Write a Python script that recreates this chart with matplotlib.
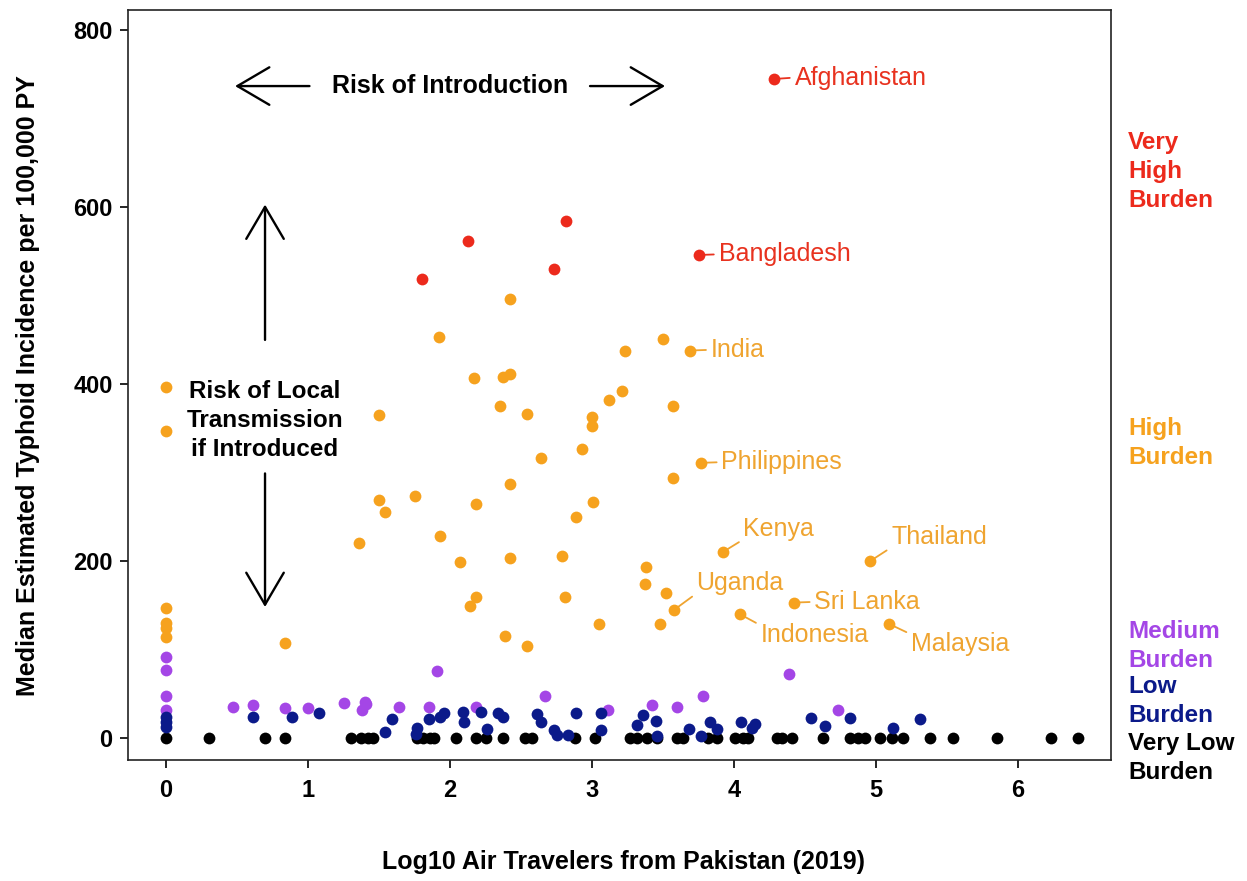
import matplotlib
matplotlib.use("Agg")
import matplotlib.pyplot as plt

plt.rcParams['font.family'] = ['Liberation Sans', 'DejaVu Sans']

# burden groups: x = log10 air travelers, y = median incidence per 100,000 PY
very_low_x = [0, 0.30, 0.70, 0.84, 1.30, 1.37, 1.42, 1.46, 1.77, 1.81, 1.86, 1.89,
              2.04, 2.18, 2.25, 2.37, 2.53, 2.58, 2.88, 3.02, 3.27, 3.32, 3.39, 3.46,
              3.60, 3.64, 3.82, 3.88, 4.01, 4.06, 4.10, 4.30, 4.34, 4.41, 4.63, 4.82,
              4.87, 4.92, 5.03, 5.11, 5.19, 5.38, 5.54, 5.85, 6.23, 6.42]
very_low_y = [0] * len(very_low_x)

low_x = [0, 0, 0, 0.61, 0.89, 1.08, 1.54, 1.59, 1.77, 1.76, 1.85, 1.93, 1.96, 2.09,
         2.10, 2.22, 2.26, 2.34, 2.37, 2.61, 2.64, 2.73, 2.75, 2.83, 2.89, 3.06,
         3.06, 3.32, 3.36, 3.45, 3.46, 3.68, 3.77, 3.83, 3.88, 4.05, 4.13, 4.15,
         4.54, 4.64, 4.82, 5.12, 5.31]
low_y = [24, 18, 12, 24, 24, 28, 7, 21, 11, 4, 21, 24, 28, 29,
         18, 29, 10, 28, 24, 27, 18, 9, 3, 3, 28, 28,
         9, 15, 26, 19, 2, 10, 2, 18, 10, 18, 11, 16,
         23, 14, 23, 11, 21]

medium_x = [0, 0, 0, 0, 0.47, 0.61, 0.84, 1.00, 1.25, 1.40, 1.38, 1.41, 1.64, 1.91,
            1.85, 2.18, 2.67, 3.11, 3.42, 3.60, 3.78, 4.39, 4.73]
medium_y = [91, 77, 47, 31, 35, 37, 34, 34, 40, 41, 31, 38, 35, 76,
            35, 35, 47, 31, 37, 35, 47, 72, 31]

high_x = [0, 0, 0, 0, 0, 0, 2.17, 1.50, 1.50, 1.54, 1.75, 2.18, 1.36, 1.93, 2.07,
          2.18, 2.14, 0.84, 2.42, 1.92, 3.23, 2.37, 2.42, 3.21, 3.12, 2.35, 2.54,
          3.00, 3.00, 2.93, 2.64, 2.42, 3.01, 2.89, 2.42, 2.79, 2.81, 3.05, 2.39,
          2.54, 3.50, 3.57, 3.57, 3.38, 3.37, 3.52, 3.48]
high_y = [397, 347, 147, 130, 124, 114, 407, 365, 269, 255, 273, 264, 220, 228, 199,
          159, 149, 107, 496, 453, 437, 408, 411, 392, 382, 375, 366,
          363, 353, 327, 316, 287, 267, 250, 203, 206, 159, 129, 115,
          104, 451, 375, 294, 193, 174, 164, 129]

very_high_x = [1.80, 2.13, 2.73, 2.82]
very_high_y = [519, 562, 530, 584]

# labelled countries
names = ["Afghanistan", "Bangladesh", "India", "Philippines", "Kenya", "Uganda",
         "Sri Lanka", "Indonesia", "Thailand", "Malaysia"]
names_x = [4.28, 3.75, 3.69, 3.77, 3.92, 3.58, 4.42, 4.04, 4.96, 5.09]
names_y = [745, 546, 438, 311, 210, 145, 153, 140, 200, 129]
names_group = ["very_high", "very_high", "high", "high", "high", "high",
               "high", "high", "high", "high"]

group_labels = ["Very\nHigh\nBurden", "High\nBurden", "Medium\nBurden",
                "Low\nBurden", "Very Low\nBurden"]
group_label_y = [640, 333, 104, 42, -23]

colors = {"very_high": "#EC2A1C", "high": "#F6A21E", "medium": "#A446E6",
          "low": "#0B1A8A", "very_low": "#000000"}
label_colors = {"very_high": "#E8321F", "high": "#EFA430"}

fig = plt.figure(figsize=(12.47, 8.81), dpi=100)
ax = fig.add_axes([128 / 1247, 121 / 881, 983 / 1247, 750 / 881])

ms = 72
ax.scatter(high_x, high_y, s=ms, color=colors["high"], lw=0, zorder=3)
ax.scatter(very_high_x, very_high_y, s=ms, color=colors["very_high"], lw=0, zorder=3)
ax.scatter(medium_x, medium_y, s=ms, color=colors["medium"], lw=0, zorder=3)
ax.scatter(very_low_x, very_low_y, s=ms, color=colors["very_low"], lw=0, zorder=4)
ax.scatter(low_x, low_y, s=ms, color=colors["low"], lw=0, zorder=5)
for g in ["very_high", "high"]:
    xs = [x for x, gg in zip(names_x, names_group) if gg == g]
    ys = [y for y, gg in zip(names_y, names_group) if gg == g]
    ax.scatter(xs, ys, s=ms, color=colors[g], lw=0, zorder=3)

# text offsets (points) and line anchor on the text
offsets = {"Afghanistan": (15, 1, (0, 0.5)), "Bangladesh": (14.5, 0.5, (0, 0.5)),
           "India": (15, 0.5, (0, 0.5)), "Philippines": (14.5, 0.5, (0, 0.5)),
           "Kenya": (15, 17, (0, 0.05)), "Uganda": (16, 19.5, (0, 0.05)),
           "Sri Lanka": (15, 0.5, (0, 0.5)), "Indonesia": (15, -15, (0, 0.9)),
           "Thailand": (15, 17.5, (0, 0.05)), "Malaysia": (16, -14.5, (0, 0.9))}
for n, x, y, g in zip(names, names_x, names_y, names_group):
    dx, dy, rp = offsets[n]
    ax.annotate(n, xy=(x, y), xytext=(dx, dy), textcoords='offset points',
                ha='left', va='center', fontsize=18, color=label_colors[g],
                arrowprops=dict(arrowstyle='-', color=label_colors[g], lw=1.3,
                                shrinkA=1.5, shrinkB=0, relpos=rp), zorder=2)

# arrows and annotations
arrow_kw = dict(arrowstyle='->,head_length=2.3,head_width=1.35', lw=1.7,
                color='black', mutation_scale=10, shrinkA=0, shrinkB=0)
ax.annotate('', xy=(0.486, 737), xytext=(1.01, 737), arrowprops=arrow_kw)
ax.annotate('', xy=(3.514, 737), xytext=(2.986, 737), arrowprops=arrow_kw)
ax.annotate('', xy=(0.697, 603), xytext=(0.697, 450), arrowprops=arrow_kw)
ax.annotate('', xy=(0.697, 148), xytext=(0.697, 299), arrowprops=arrow_kw)
ax.text(2.0, 737, "Risk of Introduction", ha='center', va='center',
        fontsize=18, fontweight='bold')
ax.text(0.697, 359, "Risk of Local\nTransmission\nif Introduced", ha='center',
        va='center', fontsize=17.5, fontweight='bold', linespacing=1.33)

for lab, y, c in zip(group_labels, group_label_y, colors.values()):
    ax.text(6.775, y, lab, ha='left', va='center', fontsize=17.5,
            fontweight='bold', color=c, linespacing=1.33, clip_on=False)

ax.set_xlim(-0.268, 6.655)
ax.set_ylim(-25, 823)
ax.set_xticks(range(0, 7))
ax.set_yticks(range(0, 801, 200))
ax.tick_params(direction='out', length=6, width=1.2, labelsize=17, pad=5)
for lab in ax.get_xticklabels() + ax.get_yticklabels():
    lab.set_fontweight('bold')
ax.tick_params(axis='x', pad=8)
for sp in ax.spines.values():
    sp.set_linewidth(1.2)
    sp.set_color('#222222')

fig.text(623 / 1247, 1 - 862 / 881, "Log10 Air Travelers from Pakistan (2019)",
         ha='center', va='center', fontsize=18, fontweight='bold')
fig.text(28 / 1247, 1 - 386 / 881, "Median Estimated Typhoid Incidence per 100,000 PY",
         ha='center', va='center', fontsize=18, fontweight='bold', rotation=90)

fig.savefig("out.png", dpi=100)
